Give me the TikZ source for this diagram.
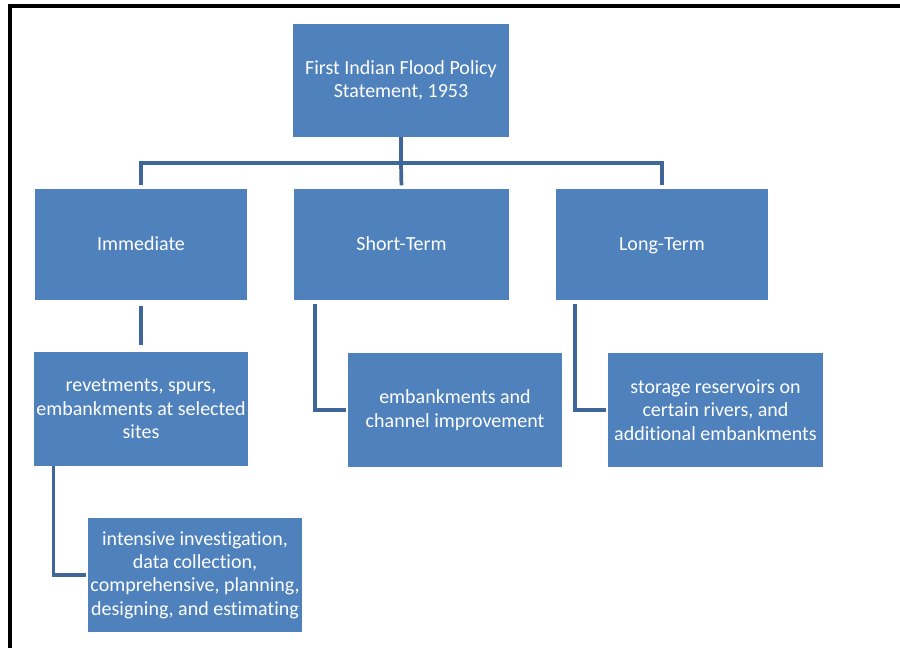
\documentclass[tikz,border=0pt]{standalone}
\usepackage{fontspec}
\setmainfont{Carlito}[Ligatures={NoCommon,NoContextual}]
\usetikzlibrary{calc}
\definecolor{boxblue}{RGB}{79,129,189}
\definecolor{lineblue}{RGB}{62,102,152}
\tikzset{
  box/.style={rectangle, fill=boxblue, text=white, align=center, inner sep=2pt,
    font=\fontsize{15pt}{17.5pt}\selectfont},
  onebox/.style={box, text height=10.5pt, text depth=1pt},
  conn/.style={draw=lineblue, line width=2.8pt},
}
\begin{document}
\begin{tikzpicture}[x=0.75pt, y=-0.75pt]
            \useasboundingbox (0,0) rectangle (900,647);
            \draw[line width=2.4pt] (10,650) -- (10,6) -- (903,6);

            \node at (401,80.5) [box, minimum width=162pt, minimum height=84.75pt] (top) {First Indian Flood Policy\\Statement, 1953};
            \node at (141,244.5) [onebox, minimum width=159pt, minimum height=83.25pt] (imm) {Immediate};
            \node at (401.5,244.5) [onebox, minimum width=161.25pt, minimum height=83.25pt] (short) {Short-Term};
            \node at (662,244.5) [onebox, minimum width=159pt, minimum height=83.25pt] (long) {Long-Term};
            \node at (141,409) [box, minimum width=159pt, minimum height=85.5pt] (rev) {revetments, spurs,\\embankments at selected\\sites};
            \node at (455,410) [box, minimum width=160.5pt, minimum height=85.5pt] (emb) {embankments and\\channel improvement};
            \node at (715.5,410) [box, minimum width=161.25pt, minimum height=85.5pt] (sto) {storage reservoirs on\\certain rivers, and\\additional embankments};
            \node at (195,575) [box, minimum width=160.5pt, minimum height=85.5pt] (inv) {intensive investigation,\\data collection,\\comprehensive, planning,\\designing, and estimating};

            \coordinate (bus) at (401,163);

            \draw[conn] (top.south) -- (bus);
            \draw[conn, shorten <=2.5pt] (imm.north) |- (bus);
            \draw[conn, shorten <=2.5pt] (short.north) -- (bus);
            \draw[conn, shorten <=2.5pt] (long.north) |- (bus);

            \draw[conn, shorten <=4pt, shorten >=5pt] (imm.south) -- (rev.north);
            \draw[conn, shorten <=3pt, shorten >=1pt] ($(short.south west)+(21,0)$) |- (emb.west);
            \draw[conn, shorten <=3pt, shorten >=1pt] ($(long.south west)+(19,0)$) |- (sto.west);
            \draw[conn, shorten >=1pt] ($(rev.south west)+(20,0)$) |- (inv.west);
\end{tikzpicture}
\end{document}
